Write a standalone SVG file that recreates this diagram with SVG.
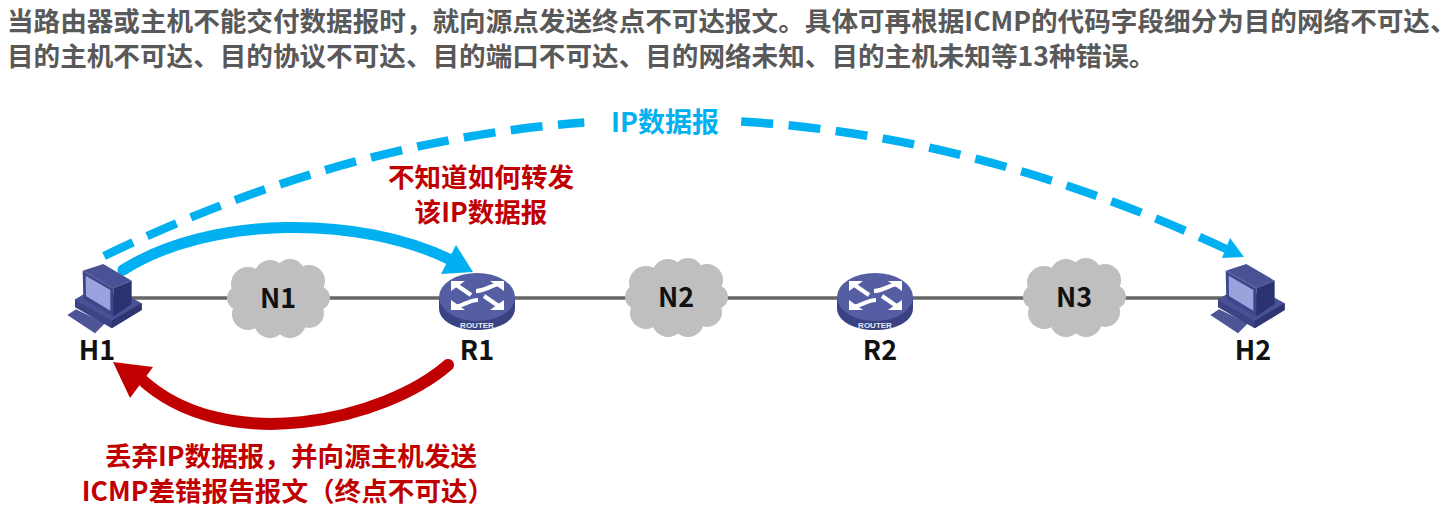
<svg xmlns="http://www.w3.org/2000/svg" width="1456" height="521" viewBox="0 0 1456 521">
<style>
text{font-family:"Noto Sans CJK SC","Noto Sans",sans-serif;font-weight:700}
.head{font-size:26.6px;fill:#595959}
.lab{font-size:27px;fill:#111;text-anchor:middle}
.red{font-size:26.6px;fill:#c00000;text-anchor:middle}
.blue{font-size:27px;fill:#00b0f0;text-anchor:middle}
.rtxt{font-family:"Liberation Sans",sans-serif;font-size:8px;fill:#e8e8f4;text-anchor:middle}
.dash{fill:none;stroke:#00b0f0;stroke-width:8.5;stroke-dasharray:32 15.5}
</style>
<defs>
<g id="cloud" fill="#bfbfbf">
<ellipse cx="0" cy="0" rx="44" ry="30"/>
<circle cx="-30" cy="-14" r="17"/><circle cx="-8" cy="-22" r="16"/><circle cx="12" cy="-24" r="15"/><circle cx="31" cy="-17" r="16"/>
<circle cx="-39" cy="0" r="12"/><circle cx="40" cy="0" r="12"/>
<circle cx="-30" cy="16" r="16"/><circle cx="-8" cy="24" r="16"/><circle cx="12" cy="24" r="16"/><circle cx="31" cy="15" r="15"/>
</g>
<g id="pc">
<polygon points="52,285 78,268 165,310 135,340" fill="#4d5596"/>
<polygon points="75,238 100,225 275,250 275,270 185,325 75,262" fill="#3c4486"/>
<polygon points="75,240 185,302 275,250 240,230 120,210" fill="#4a5296"/>
<polygon points="185,302 275,250 275,270 185,325" fill="#2e3570"/>
<polygon points="98,152 160,132 245,182 190,205" fill="#4a5296"/>
<polygon points="98,152 190,205 190,290 100,238" fill="#3f478c"/>
<polygon points="190,205 245,182 245,252 190,290" fill="#2b3270"/>
<polygon points="107,167 181,210 181,272 108,228" fill="#9aa3dc"/>
</g>
<g id="router">
<path d="M-38,-1 V10 C-38,24 -20,32 0,32 C20,32 38,24 38,10 V-1 Z" fill="#3a4284"/>
<ellipse cx="0" cy="-1" rx="38" ry="24" fill="#565ea3"/>
<g fill="none" stroke="#fff" stroke-width="4.2">
<path d="M-22,-14 L-6,-3"/>
<path d="M23,-14 C14,-13 8,-7 -1,-7"/>
<path d="M-22,9 C-14,8 -8,2 1,2"/>
<path d="M23,9 L7,-2"/>
</g>
<g fill="#fff">
<polygon points="-26,-17 -12,-17 -26,-7"/>
<polygon points="27,-17 13,-17 27,-7"/>
<polygon points="-26,12 -12,12 -26,2"/>
<polygon points="27,12 13,12 27,2"/>
</g>
<text x="0" y="30" class="rtxt">ROUTER</text>
</g>
</defs>

<text x="7" y="31" class="head">当路由器或主机不能交付数据报时，就向源点发送终点不可达报文。具体可再根据ICMP的代码字段细分为目的网络不可达、</text>
<text x="7" y="66" class="head">目的主机不可达、目的协议不可达、目的端口不可达、目的网络未知、目的主机未知等13种错误。</text>

<g id="connectors">
<path d="M131,298 H1226" fill="none" stroke="#666" stroke-width="3.4"/>
<path class="dash" d="M104,256 C265,178.5 424.6,134.2 584.3,122.5"/>
<path class="dash" d="M741.2,121.5 C902.2,131.1 1063.6,173.8 1226,249"/>
<polygon points="1244,257 1222,258 1230,238" fill="#00b0f0"/>
<path d="M123,270 C210,215 360,215 451,260" fill="none" stroke="#00b0f0" stroke-width="11" stroke-linecap="round"/>
<polygon points="473,272 441,274 456,245" fill="#00b0f0"/>
<path d="M448,365 C385,420 225,458 140,378" fill="none" stroke="#c00000" stroke-width="12" stroke-linecap="round"/>
<polygon points="113,362 153,367 130,398" fill="#c00000"/>
</g>

<g id="H1"><use href="#pc" transform="translate(50,220) scale(.3333)"/><text x="97" y="360" class="lab">H1</text></g>
<g id="N1"><use href="#cloud" x="278" y="298"/><text x="278" y="308" class="lab">N1</text></g>
<g id="R1"><use href="#router" x="477" y="298"/><text x="477" y="360" class="lab">R1</text></g>
<g id="N2"><use href="#cloud" x="676" y="297"/><text x="676" y="307" class="lab">N2</text></g>
<g id="R2"><use href="#router" x="875" y="298"/><text x="880" y="360" class="lab">R2</text></g>
<g id="N3"><use href="#cloud" x="1074" y="297"/><text x="1074" y="307" class="lab">N3</text></g>
<g id="H2"><use href="#pc" transform="translate(1193,220) scale(.3333)"/><text x="1253" y="360" class="lab">H2</text></g>

<text x="665" y="132" class="blue">IP数据报</text>
<text x="481" y="187" class="red">不知道如何转发</text>
<text x="481" y="222" class="red">该IP数据报</text>
<text x="291" y="466" class="red">丢弃IP数据报，并向源主机发送</text>
<text x="288" y="501" class="red">ICMP差错报告报文（终点不可达）</text>
</svg>
